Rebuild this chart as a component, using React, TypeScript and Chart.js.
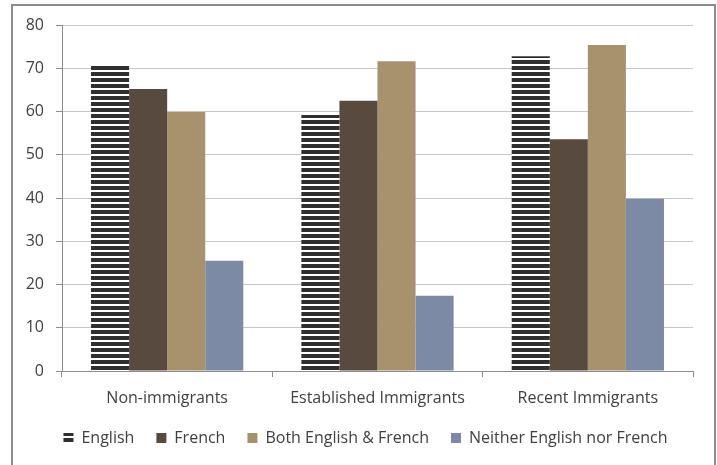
import React, { useEffect, useRef } from "react";
import { Chart, registerables } from "chart.js";

Chart.register(...registerables);

const categories = ["Non-immigrants", "Established Immigrants", "Recent Immigrants"];
const seriesNames = ["English", "French", "Both English & French", "Neither English nor French"];
const englishValues = [71.0, 59.2, 72.8];
const frenchValues = [65.2, 62.5, 53.6];
const bothValues = [59.9, 71.6, 75.4];
const neitherValues = [25.5, 17.4, 39.8];
const yTicks = [0, 10, 20, 30, 40, 50, 60, 70, 80];

const FONT = "'Open Sans', 'DejaVu Sans', sans-serif";
const TEXT = "#404040";

function makeStripePattern(ctx: CanvasRenderingContext2D): CanvasPattern | string {
  const c = document.createElement("canvas");
  c.width = 8;
  c.height = 6;
  const p = c.getContext("2d");
  if (!p) return "#333";
  p.fillStyle = "#ffffff";
  p.fillRect(0, 0, 8, 6);
  p.fillStyle = "#2f2f2f";
  p.fillRect(0, 0, 8, 4);
  const pat = ctx.createPattern(c, "repeat");
  return pat || "#333";
}

export default function App() {
  const ref = useRef<HTMLCanvasElement | null>(null);

  useEffect(() => {
    const canvas = ref.current;
    if (!canvas) return;
    const ctx = canvas.getContext("2d");
    if (!ctx) return;
    const stripes = makeStripePattern(ctx);

    const borderPlugin = {
      id: "outerBorder",
      beforeDraw(chart: any) {
        const c = chart.ctx;
        c.save();
        c.fillStyle = "#ffffff";
        c.fillRect(0, 0, chart.width, chart.height);
        c.strokeStyle = "#8c8c8c";
        c.lineWidth = 2;
        c.strokeRect(12, 5, 703, 600);
        c.restore();
      },
      afterLayout(chart: any) {
        const lg = chart.legend;
        if (lg) {
          lg.left += 19;
          lg.right += 19;
        }
      },
    };

    const chart = new Chart(ctx, {
      type: "bar",
      data: {
        labels: categories,
        datasets: [
          { label: seriesNames[0], data: englishValues, backgroundColor: stripes as any, borderWidth: 0 },
          { label: seriesNames[1], data: frenchValues, backgroundColor: "#584a3f", borderWidth: 0 },
          { label: seriesNames[2], data: bothValues, backgroundColor: "#a8926e", borderWidth: 0 },
          { label: seriesNames[3], data: neitherValues, backgroundColor: "#7d8aa6", borderWidth: 0 },
        ],
      },
      options: {
        animation: false,
        responsive: false,
        maintainAspectRatio: false,
        layout: { padding: { left: 0, right: 24, top: 25, bottom: 9 } },
        datasets: { bar: { categoryPercentage: 0.724, barPercentage: 1 } },
        plugins: {
          tooltip: { enabled: false },
          legend: {
            position: "bottom",
            align: "center",
            labels: {
              boxWidth: 10,
              boxHeight: 10,
              padding: 22,
              color: TEXT,
              font: { family: FONT, size: 16 },
            },
          },
        },
        scales: {
          x: {
            grid: {
              display: true,
              drawOnChartArea: false,
              drawTicks: true,
              tickLength: 6,
              color: "#8c8c8c",
              tickColor: "#8c8c8c",
              offset: true,
            },
            border: { display: true, color: "#8c8c8c", width: 1 },
            ticks: { color: TEXT, font: { family: FONT, size: 16 }, padding: 12, maxRotation: 0 },
            afterFit(scale: any) {
              scale.height = 37;
              scale.paddingLeft = 0;
              scale.paddingRight = 0;
            },
          },
          y: {
            min: 0,
            max: 80,
            afterBuildTicks(scale: any) {
              scale.ticks = yTicks.map((v) => ({ value: v }));
            },
            grid: {
              color: "#c6c6c6",
              tickColor: "#8c8c8c",
              tickLength: 6,
              drawTicks: true,
            },
            border: { display: true, color: "#8c8c8c", width: 1 },
            ticks: { color: TEXT, font: { family: FONT, size: 16 }, padding: 12 },
            afterFit(scale: any) {
              scale.width = 62;
              scale.paddingTop = 0;
              scale.paddingBottom = 0;
            },
          },
        },
      },
      plugins: [borderPlugin],
    });

    return () => chart.destroy();
  }, []);

  return (
    <div style={{ position: "absolute", left: 0, top: 0, width: 717, height: 465, background: "#fff" }}>
      <canvas ref={ref} width={717} height={465} style={{ display: "block", width: 717, height: 465 }} />
    </div>
  );
}
